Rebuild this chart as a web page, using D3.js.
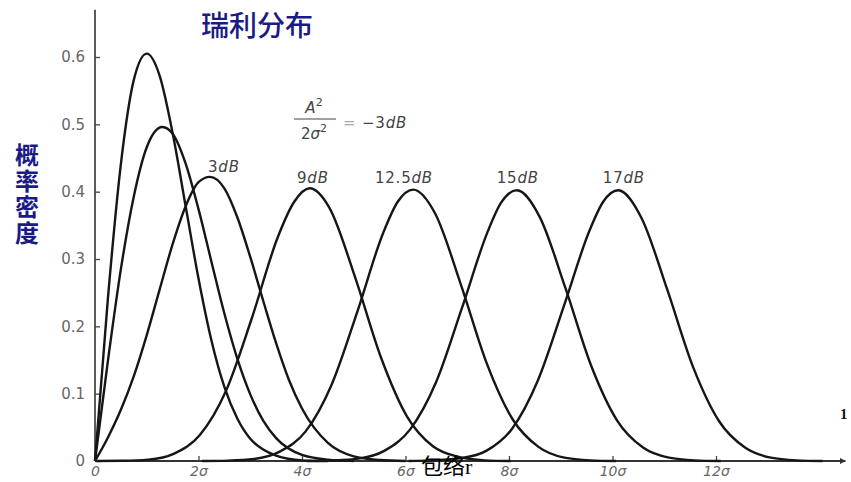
<!DOCTYPE html>
<html>
<head>
<meta charset="utf-8">
<script src="https://cdn.jsdelivr.net/npm/d3@7"></script>
<style>
  html, body { margin: 0; padding: 0; background: #fff; }
  svg { display: block; }
</style>
</head>
<body>
<div id="chart"></div>
<script>
// Rician envelope densities: [r (in sigma), density]
const curveRayleigh = [[0,0],[0.25,0.242],[0.5,0.441],[0.75,0.566],[1,0.605],[1.25,0.572],[1.5,0.487],[1.75,0.379],[2,0.271],[2.25,0.179],[2.5,0.110],[2.75,0.063],[3,0.033],[3.25,0.017],[3.5,0.008],[4,0.001],[4.5,0]];
const curveMinus3 = [[0,0],[0.25,0.149],[0.5,0.285],[0.75,0.393],[1,0.466],[1.3,0.496],[1.5,0.486],[1.75,0.442],[2,0.374],[2.25,0.296],[2.5,0.219],[2.75,0.152],[3,0.099],[3.25,0.060],[3.5,0.034],[4,0.009],[4.5,0.002],[5,0]];
const curve3dB = [[0,0],[0.25,0.035],[0.5,0.076],[0.75,0.126],[1,0.187],[1.25,0.255],[1.5,0.322],[1.75,0.378],[2,0.414],[2.22,0.422],[2.5,0.405],[2.75,0.362],[3,0.303],[3.25,0.238],[3.5,0.175],[3.75,0.120],[4,0.078],[4.5,0.027],[5,0.007],[5.5,0.0015],[6,0]];
const curve9dB = [[0.03,0],[0.53,0.0003],[1.03,0.002],[1.53,0.011],[2.03,0.039],[2.53,0.104],[3.03,0.212],[3.53,0.332],[3.85,0.385],[4.15,0.405],[4.53,0.376],[5.03,0.272],[5.53,0.153],[6.03,0.066],[6.53,0.022],[7.03,0.006],[7.53,0.001],[8.03,0]];
const curve12dB = [[2.07,0],[2.57,0.0006],[3.07,0.003],[3.57,0.014],[4.07,0.044],[4.57,0.113],[5.07,0.222],[5.57,0.339],[5.85,0.385],[6.15,0.403],[6.57,0.368],[7.07,0.262],[7.57,0.145],[8.07,0.062],[8.57,0.021],[9.07,0.005],[9.57,0.001],[10.07,0]];
const curve15dB = [[4.09,0],[4.59,0.0008],[5.09,0.0035],[5.59,0.015],[6.09,0.047],[6.59,0.117],[7.09,0.227],[7.59,0.341],[7.85,0.384],[8.15,0.402],[8.59,0.363],[9.09,0.257],[9.59,0.141],[10.09,0.060],[10.59,0.020],[11.09,0.005],[11.59,0.001],[12.09,0]];
const curve17dB = [[6.06,0],[6.56,0.0009],[7.06,0.004],[7.56,0.015],[8.06,0.048],[8.56,0.120],[9.06,0.230],[9.56,0.343],[9.82,0.385],[10.11,0.402],[10.56,0.361],[11.06,0.254],[11.56,0.139],[12.06,0.059],[12.56,0.020],[13.06,0.005],[13.56,0.001],[14.06,0]];

const yTicks = [0, 0.1, 0.2, 0.3, 0.4, 0.5, 0.6];
const xTicks = [0, 2, 4, 6, 8, 10, 12];

const curveLabels = ["3", "9", "12.5", "15", "17"];
const curveLabelAt = [[2.49, 0.429], [4.21, 0.413], [5.97, 0.413], [8.17, 0.413], [10.22, 0.413]];

const width = 851, height = 482;
const x = d3.scaleLinear().domain([0, 12]).range([95, 716]);
const y = d3.scaleLinear().domain([0, 0.6]).range([461, 57]);

const svg = d3.select('#chart').append('svg')
  .attr('width', width)
  .attr('height', height)
  .attr('viewBox', `0 0 ${width} ${height}`);

svg.append('rect').attr('width', width).attr('height', height).attr('fill', '#fff');

svg.append('defs').append('marker')
  .attr('id', 'arrow')
  .attr('viewBox', '0 0 10 10')
  .attr('refX', 9).attr('refY', 5)
  .attr('markerWidth', 11).attr('markerHeight', 6)
  .attr('markerUnits', 'userSpaceOnUse')
  .attr('orient', 'auto')
  .append('path').attr('d', 'M0,0 L10,5 L0,10 Z').attr('fill', '#333');

// axis lines (longer than the tick range, as in the scan)
svg.append('line')
  .attr('x1', x(0)).attr('x2', x(0))
  .attr('y1', y(0)).attr('y2', y(0.67))
  .attr('stroke', '#333').attr('stroke-width', 1.6);
svg.append('line')
  .attr('x1', x(0)).attr('x2', x(14.5))
  .attr('y1', y(0)).attr('y2', y(0))
  .attr('stroke', '#333').attr('stroke-width', 1.8)
  .attr('marker-end', 'url(#arrow)');

const yAxis = d3.axisLeft(y)
  .tickValues(yTicks)
  .tickSizeInner(-5).tickSizeOuter(0)
  .tickPadding(10)
  .tickFormat(d => d === 0 ? '0' : d.toFixed(1));
const gy = svg.append('g').attr('transform', `translate(${x(0)},0)`).call(yAxis);

const xAxis = d3.axisBottom(x)
  .tickValues(xTicks)
  .tickSizeInner(-5).tickSizeOuter(0)
  .tickPadding(5)
  .tickFormat(d => d === 0 ? '0' : d + 'σ');
const gx = svg.append('g').attr('transform', `translate(0,${y(0)})`).call(xAxis);

for (const g of [gx, gy]) {
  g.select('.domain').remove();
  g.selectAll('.tick line').attr('stroke', '#444').attr('stroke-width', 1.3);
  g.selectAll('.tick text')
    .attr('fill', '#666')
    .attr('font-family', '"DejaVu Sans", sans-serif')
    .attr('font-size', 15);
}
gx.selectAll('.tick text').attr('font-style', 'italic').attr('font-size', 14);
gx.selectAll('.tick').filter(d => d === 0).select('line').remove();

// curves
const line = d3.line()
  .x(d => x(d[0]))
  .y(d => y(d[1]))
  .curve(d3.curveMonotoneX);

const series = [curveRayleigh, curveMinus3, curve3dB, curve9dB, curve12dB, curve15dB, curve17dB];
svg.append('g').selectAll('path')
  .data(series)
  .join('path')
  .attr('d', line)
  .attr('fill', 'none')
  .attr('stroke', '#161616')
  .attr('stroke-width', 2.4)
  .attr('stroke-linejoin', 'round');

// curve labels
const lab = svg.append('g')
  .attr('font-family', '"DejaVu Sans", sans-serif')
  .attr('font-size', 15)
  .attr('letter-spacing', 0.8)
  .attr('fill', '#444');
curveLabels.forEach((t, i) => {
  const txt = lab.append('text')
    .attr('x', x(curveLabelAt[i][0]))
    .attr('y', y(curveLabelAt[i][1]))
    .attr('text-anchor', 'middle');
  txt.append('tspan').text(t);
  txt.append('tspan').attr('font-style', 'italic').text('dB');
});

// A^2 / 2σ^2 = -3dB
const frac = svg.append('g')
  .attr('font-family', '"DejaVu Sans", sans-serif')
  .attr('font-size', 15)
  .attr('fill', '#444')
  .attr('font-style', 'italic');
frac.append('text').attr('x', 314).attr('y', 113).attr('text-anchor', 'middle')
  .html('A<tspan dy="-7" font-size="11" font-style="normal">2</tspan>');
frac.append('line').attr('x1', 294).attr('x2', 336).attr('y1', 119).attr('y2', 119)
  .attr('stroke', '#444').attr('stroke-width', 1.2);
frac.append('text').attr('x', 314).attr('y', 139).attr('text-anchor', 'middle')
  .html('<tspan font-style="normal">2</tspan>σ<tspan dy="-7" font-size="11" font-style="normal">2</tspan>');
frac.append('text').attr('x', 343).attr('y', 128).attr('letter-spacing', 0.8)
  .html('<tspan font-style="normal" fill="#aaa">=</tspan> <tspan font-style="normal">−3</tspan>dB');

// title and axis titles
svg.append('text')
  .attr('x', 257).attr('y', 36)
  .attr('text-anchor', 'middle')
  .attr('font-family', '"Noto Sans CJK SC", sans-serif')
  .attr('font-size', 28)
  .attr('font-weight', 500)
  .attr('fill', '#1a1a86')
  .text('瑞利分布');

svg.append('text')
  .attr('x', 27).attr('y', 143)
  .attr('writing-mode', 'vertical-rl')
  .attr('letter-spacing', 2)
  .attr('font-family', '"Noto Sans CJK SC", sans-serif')
  .attr('font-size', 24)
  .attr('font-weight', 700)
  .attr('fill', '#1a1a86')
  .text('概率密度');

svg.append('text')
  .attr('x', 421).attr('y', 474)
  .attr('font-family', '"Noto Sans CJK SC", sans-serif')
  .attr('font-size', 22)
  .attr('fill', '#000')
  .html('包络<tspan font-family="Liberation Serif, serif">r</tspan>');

svg.append('text')
  .attr('x', 840).attr('y', 419)
  .attr('font-family', '"Liberation Serif", serif')
  .attr('font-weight', 700)
  .attr('font-size', 15)
  .attr('fill', '#111')
  .text('1');
</script>
</body>
</html>
